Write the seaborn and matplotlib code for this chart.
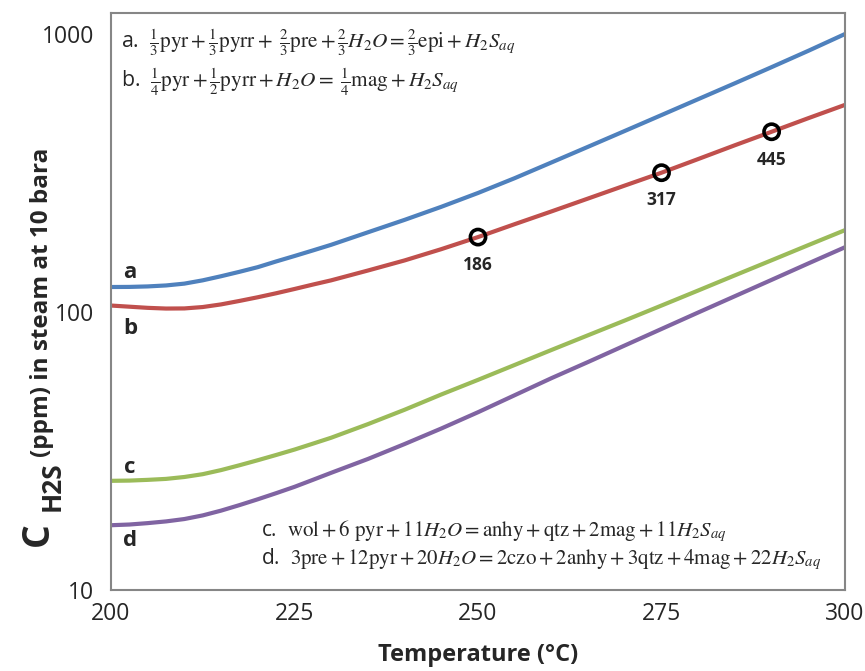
import matplotlib
matplotlib.use("Agg")
import matplotlib.pyplot as plt
import numpy as np
import pandas as pd
import seaborn as sns

# ---- data ----
temperature = [200, 202.5, 205, 207.5, 210, 212.5, 215, 217.5, 220, 222.5, 225,
               227.5, 230, 235, 240, 245, 250, 255, 260, 265, 270, 275, 280,
               285, 290, 295, 300]
curve_a = [123, 123.1, 123.6, 124.6, 126.5, 130, 134.5, 139.5, 145, 152, 159,
           166.5, 174.5, 193.5, 214.5, 239, 268, 303, 345, 393, 448, 511, 583,
           665, 760, 870, 1000]
curve_b = [105.5, 104.5, 103.5, 102.9, 103, 104.2, 106.5, 109.6, 113, 116.8, 121,
           125.5, 130, 141, 153.3, 168.3, 186, 207, 230, 256, 285, 317, 355,
           398, 445, 498, 556]
curve_c = [24.7, 24.75, 24.9, 25.1, 25.5, 26.1, 27.0, 28.1, 29.3, 30.6, 32.0,
           33.6, 35.3, 39.5, 44.5, 50.5, 57, 64.5, 73, 82.5, 93.2, 105.5, 119.5,
           135.5, 153.5, 174, 197]
curve_d = [17.1, 17.2, 17.4, 17.65, 18.0, 18.55, 19.3, 20.2, 21.2, 22.3, 23.5,
           24.9, 26.4, 29.6, 33.5, 38.1, 43.6, 50.2, 57.8, 66.1, 75.8, 86.9, 99.6,
           114, 130.5, 149.5, 171]
curve_names = ["a", "b", "c", "d"]

point_T = [250, 275, 290]
point_v = [186, 317, 445]
point_labels = ["186", "317", "445"]

x_ticks = [200, 225, 250, 275, 300]
y_ticks = [10, 100, 1000]

eq_a = r"$\frac{1}{3}\mathrm{pyr}+\frac{1}{3}\mathrm{pyrr}+\ \frac{2}{3}\mathrm{pre}+\frac{2}{3}H_2O=\frac{2}{3}\mathrm{epi}+H_2S_{aq}$"
eq_b = r"$\frac{1}{4}\mathrm{pyr}+\frac{1}{2}\mathrm{pyrr}+H_2O=\ \frac{1}{4}\mathrm{mag}+H_2S_{aq}$"
eq_c = r"$\mathrm{wol}+6\ \mathrm{pyr}+11H_2O=\mathrm{anhy}+\mathrm{qtz}+2\mathrm{mag}+11H_2S_{aq}$"
eq_d = r"$3\mathrm{pre}+12\mathrm{pyr}+20H_2O=2\mathrm{czo}+2\mathrm{anhy}+3\mathrm{qtz}+4\mathrm{mag}+22H_2S_{aq}$"

colors = ["#4F81BD", "#C0504D", "#9BBB59", "#8064A2"]
spine_grey = "#868686"

# ---- long-form table ----
df = pd.DataFrame({
    "T": temperature * 4,
    "ppm": curve_a + curve_b + curve_c + curve_d,
    "curve": sum([[n] * len(temperature) for n in curve_names], []),
})
pts = pd.DataFrame({"T": point_T, "ppm": point_v})

sns.set_style("white")
plt.rcParams["font.family"] = ["Open Sans", "DejaVu Sans"]

W, H = 865, 671
fig = plt.figure(figsize=(W / 100, H / 100), dpi=100)
L, R, B, T = 111, 845, 590, 13
ax = fig.add_axes([L / W, 1 - B / H, (R - L) / W, (B - T) / H])
ax.set_yscale("log")

sns.lineplot(data=df, x="T", y="ppm", hue="curve", palette=colors,
             linewidth=3.0, legend=False, ax=ax, sort=False)
sns.scatterplot(data=pts, x="T", y="ppm", marker="o", s=120,
                facecolor="none", edgecolor="black", linewidth=2.6,
                ax=ax, zorder=5)

for t, v, lab in zip(point_T, point_v, point_labels):
    ax.annotate(lab, (t, v), xytext=(0, -20), textcoords="offset points",
                ha="center", va="center", fontsize=12.5, fontweight="bold")

ax.set_xlim(200, 300)
ax.set_ylim(10, 1190)
ax.set_xticks(x_ticks)
ax.set_xticklabels([str(v) for v in x_ticks])
ax.set_yticks(y_ticks)
ax.set_yticklabels([str(v) for v in y_ticks])
ax.yaxis.set_minor_locator(matplotlib.ticker.NullLocator())
ax.tick_params(axis="x", direction="in", length=7, width=1.2, color=spine_grey,
               labelsize=16.5, pad=9)
ax.tick_params(axis="y", direction="out", length=8, width=1.2, color=spine_grey,
               labelsize=16.5, pad=4)
for s in ax.spines.values():
    s.set_color(spine_grey)
    s.set_linewidth(1.5)
ax.set_xlabel("")
ax.set_ylabel("")

# curve letters
for name, (xx, yy) in zip(curve_names, [(202.6, 139), (202.6, 87.5), (202.6, 27.5), (202.6, 15.1)]):
    ax.text(xx, yy, name, fontsize=16, fontweight="bold", ha="center", va="center")

# equations (positions in figure pixels)
def fig_text_px(x, y, s, **kw):
    fig.text(x / W, 1 - y / H, s, **kw)

eq_kw = dict(fontsize=15.3, math_fontfamily="stix", va="center", ha="left")
fig_text_px(121, 43, "a.  " + eq_a, **eq_kw)
fig_text_px(121, 82, "b.  " + eq_b, **eq_kw)
eq_kw["fontsize"] = 15
fig_text_px(261, 531, "c.  " + eq_c, **eq_kw)
fig_text_px(261, 559, "d.  " + eq_d, **eq_kw)

# axis titles
fig_text_px(478, 655, "Temperature (°C)", ha="center", va="center",
            fontsize=17, fontweight="bold")
fig_text_px(38, 546, "C", rotation=90, ha="center", va="bottom",
            fontsize=27, fontweight="bold")
fig_text_px(52, 511, "H2S", rotation=90, ha="center", va="bottom",
            fontsize=19, fontweight="bold")
fig_text_px(42, 457, "(ppm) in steam at 10 bara", rotation=90,
            ha="center", va="bottom", fontsize=17.5, fontweight="bold")

fig.savefig("out.png", dpi=100, facecolor="white")
